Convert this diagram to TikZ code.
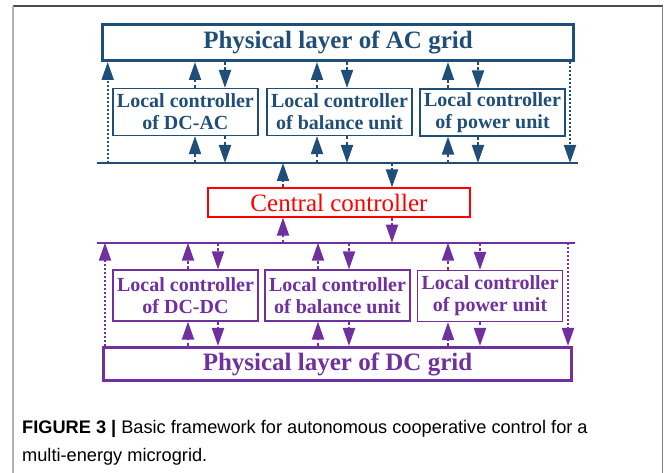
\documentclass[tikz,border=0pt]{standalone}
\usepackage{fontspec}
\setmainfont{Liberation Serif}
\newfontfamily\capfont{Liberation Sans}
\usetikzlibrary{arrows.meta}
\definecolor{acblue}{RGB}{31,78,121}
\definecolor{dcpurple}{RGB}{112,48,160}
\tikzset{layer/.style={draw,line width=3pt,inner sep=0pt,font=\bfseries\fontsize{25}{28}\selectfont},
 loc/.style={draw,line width=1.2pt,minimum width=145pt,inner sep=1pt,align=center,font=\bfseries\fontsize{20}{22}\selectfont},
 sig/.style={line width=2pt,dash pattern=on 3pt off 2.5pt,-{Triangle[length=18pt,width=12pt]}},
 edgearr/.style={sig,dash pattern=on 2pt off 2pt},
 bus/.style={line width=2pt}}

\begin{document}
\begin{tikzpicture}[x=1pt,y=-1pt]
\useasboundingbox (0,0) rectangle (665,473);
% frame
\draw[black!70,line width=1.2pt](13,6)--(663,6);
\draw[black!30,line width=1.2pt](13,6)--(13,473);\draw[black!50,line width=1pt](662.5,6)--(662.5,473);
% AC side
\node[layer,acblue,minimum width=471pt,minimum height=36pt](ac) at(338,42.5){Physical layer of AC grid};
\node[loc,acblue,minimum height=47pt](lca) at(185.4,112){Local controller\\of DC-AC};
\node[loc,acblue,minimum height=47pt](lcb) at(339.5,112){Local controller\\of balance unit};
\node[loc,acblue,minimum height=47pt](lcc) at(492.5,112.5){Local controller\\of power unit};
\coordinate(busAl) at(97,163);\coordinate(busAr) at(578,163);
\draw[bus,acblue](busAl)--(busAr);
% central
\node[draw,red,line width=1.2pt,minimum width=262pt,minimum height=29pt,inner sep=0pt,font=\fontsize{25}{28}\selectfont](cc) at(339,202.5){Central controller};
% DC side
\coordinate(busBl) at(97,242.7);\coordinate(busBr) at(575,242.7);
\draw[bus,dcpurple](busBl)--(busBr);
\node[loc,dcpurple,minimum height=51pt](lda) at(185.5,295.5){Local controller\\of DC-DC};
\node[loc,dcpurple,minimum height=51pt](ldb) at(337.5,295.5){Local controller\\of balance unit};
\node[loc,dcpurple,minimum height=51pt](ldc) at(490,296){Local controller\\of power unit};
\node[layer,dcpurple,minimum width=468pt,minimum height=33pt](dc) at(337.5,364){Physical layer of DC grid};
% signals, AC side
\draw[edgearr,acblue](107.7,0 |- busAl)--(107.7,0 |- ac.south);
\draw[edgearr,acblue](570,0 |- ac.south)--(570,0 |- busAl);
\foreach \n/\u/\d in {lca/195/225,lcb/317/347,lcc/448/478}{
 \draw[sig,acblue](\u,0 |- \n.north)--(\u,0 |- ac.south);\draw[sig,acblue](\d,0 |- ac.south)--(\d,0 |- \n.north);
 \draw[sig,acblue](\u,0 |- busAl)--(\u,0 |- \n.south);\draw[sig,acblue](\d,0 |- \n.south)--(\d,0 |- busAl);}
\draw[sig,acblue](283,0 |- cc.north)--(283,0 |- busAl);\draw[sig,acblue](392,0 |- busAl)--(392,0 |- cc.north);
% signals, DC side
\draw[sig,dcpurple](283,0 |- busBl)--(283,0 |- cc.south);\draw[sig,dcpurple](392,0 |- cc.south)--(392,0 |- busBl);
\draw[edgearr,dcpurple](105,0 |- dc.north)--(105,0 |- busBl);
\draw[edgearr,dcpurple](568,0 |- busBl)--(568,0 |- dc.north);
\foreach \n/\u/\d in {lda/188/218,ldb/318/349,ldc/448/480}{
 \draw[sig,dcpurple](\u,0 |- \n.north)--(\u,0 |- busBl);\draw[sig,dcpurple](\d,0 |- busBl)--(\d,0 |- \n.north);
 \draw[sig,dcpurple](\u,0 |- dc.north)--(\u,0 |- \n.south);\draw[sig,dcpurple](\d,0 |- \n.south)--(\d,0 |- dc.north);}
% caption
\node[anchor=base west,inner sep=0pt,font=\capfont\fontsize{18.2}{20}\selectfont](cap1) at(22,434){\textbf{FIGURE 3 |} Basic framework for autonomous cooperative control for a};
\node[anchor=base west,inner sep=0pt,font=\capfont\fontsize{18.2}{20}\selectfont](cap2) at(22,461){multi-energy microgrid.};
\end{tikzpicture}
\end{document}
